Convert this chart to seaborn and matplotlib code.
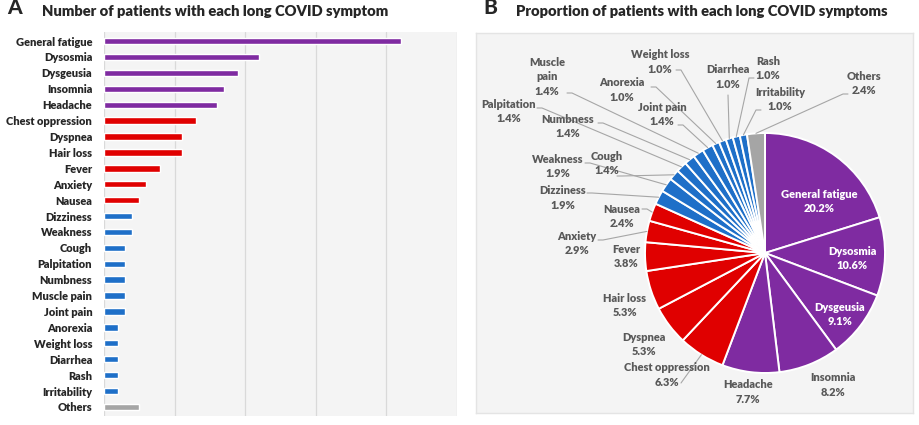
import matplotlib
matplotlib.use("Agg")
import matplotlib.pyplot as plt
import seaborn as sns
import numpy as np
import pandas as pd

# ---------------- data ----------------
symptoms = ["General fatigue", "Dysosmia", "Dysgeusia", "Insomnia", "Headache",
            "Chest oppression", "Dyspnea", "Hair loss", "Fever", "Anxiety", "Nausea",
            "Dizziness", "Weakness", "Cough", "Palpitation", "Numbness", "Muscle pain",
            "Joint pain", "Anorexia", "Weight loss", "Diarrhea", "Rash", "Irritability",
            "Others"]
counts = [42, 22, 19, 17, 16, 13, 11, 11, 8, 6, 5, 4, 4, 3, 3, 3, 3, 3, 2, 2, 2, 2, 2, 5]
percent_labels = ["20.2%", "10.6%", "9.1%", "8.2%", "7.7%", "6.3%", "5.3%", "5.3%",
                  "3.8%", "2.9%", "2.4%", "1.9%", "1.9%", "1.4%", "1.4%", "1.4%",
                  "1.4%", "1.4%", "1.0%", "1.0%", "1.0%", "1.0%", "1.0%", "2.4%"]
groups = ["g1"] * 5 + ["g2"] * 6 + ["g3"] * 12 + ["g4"]
pie_names = ["General fatigue", "Dysosmia", "Dysgeusia", "Insomnia", "Headache",
             "Chest oppression", "Dyspnea", "Hair loss", "Fever", "Anxiety", "Nausea",
             "Dizziness", "Weakness", "Cough", "Palpitation", "Numbness", "Muscle\npain",
             "Joint pain", "Anorexia", "Weight loss", "Diarrhea", "Rash", "Irritability",
             "Others"]

# ---------------- style ----------------
group_colors = {"g1": "#7F2BA1", "g2": "#E00000", "g3": "#1E6FC8", "g4": "#A5A5A5"}
BG = "#f4f4f4"
WT = 800
sns.set_style("white")
plt.rcParams["font.family"] = ["Lato", "DejaVu Sans"]

W, H = 920, 425
fig = plt.figure(figsize=(W / 100, H / 100), dpi=100)

def fx(px):
    return px / W

def fy(py):
    return 1 - py / H

# ---------------- panel A ----------------
axL, axR, axT, axB = 104, 457, 32, 416
ax1 = fig.add_axes([fx(axL), fy(axB), (axR - axL) / W, (axB - axT) / H])
ax1.set_facecolor(BG)
df = pd.DataFrame({"symptom": symptoms, "count": counts, "group": groups})
sns.barplot(data=df, x="count", y="symptom", hue="group", palette=group_colors,
            hue_order=["g1", "g2", "g3", "g4"], order=symptoms, dodge=False,
            width=0.4, saturation=1, legend=False, ax=ax1, zorder=3)
ax1.set_xlim(0, 50)
ax1.set_ylim(23.57, -0.57)
ax1.set_xticks([0, 10, 20, 30, 40, 50])
ax1.set_xticklabels([])
ax1.grid(axis="x", color="#d9d9d9", linewidth=0.9)
ax1.grid(axis="y", visible=False)
ax1.set_axisbelow(True)
for s in ax1.spines.values():
    s.set_visible(False)
ax1.tick_params(axis="both", length=0)
ax1.tick_params(axis="y", pad=8.5, labelsize=7.9)
for t in ax1.get_yticklabels():
    t.set_fontweight(WT)
ax1.set_xlabel("")
ax1.set_ylabel("")

fig.text(fx(215), fy(11), "Number of patients with each long COVID symptom",
         ha="center", va="center", fontsize=10.6, fontweight=WT)
fig.text(fx(15), fy(8), "A", ha="center", va="center", fontsize=15, fontweight=900)

# ---------------- panel B ----------------
bL, bR, bT, bB = 476, 913, 33, 413
cx, cy, R = 765, 253, 120
ax2 = fig.add_axes([fx(bL), fy(bB), (bR - bL) / W, (bB - bT) / H])
pie_colors = [group_colors[g] for g in groups]
wedges, _ = ax2.pie(counts, colors=pie_colors, startangle=90, counterclock=False,
                    radius=1.0, wedgeprops=dict(edgecolor="white", linewidth=1.4))
ax2.set_frame_on(True)
ax2.set_facecolor(BG)
for s in ax2.spines.values():
    s.set_color("#e4e4e4")
    s.set_linewidth(1.0)
ax2.set_aspect("auto")
ax2.set_xlim((bL - cx) / R, (bR - cx) / R)
ax2.set_ylim((cy - bB) / R, (cy - bT) / R)
ax2.set_xticks([])
ax2.set_yticks([])

def dx(px):
    return (px - cx) / R

def dy(py):
    return (cy - py) / R

# label layout (pixel centres) and leader-line start points
label_pos = {
    "General fatigue": (819, 201.5), "Dysosmia": (852, 258.5), "Dysgeusia": (840, 314.5),
    "Insomnia": (833, 385), "Headache": (748, 392), "Chest oppression": (667, 375),
    "Dyspnea": (644, 344.5), "Hair loss": (625, 305.5), "Fever": (626, 256.5),
    "Anxiety": (577, 243.5), "Nausea": (622, 216.5), "Dizziness": (563, 198),
    "Weakness": (558, 166.5), "Cough": (607, 163.5), "Palpitation": (509, 111.5),
    "Numbness": (568, 126.5), "Muscle pain": (547, 77), "Joint pain": (662, 114.5),
    "Anorexia": (622, 90), "Weight loss": (660, 62), "Diarrhea": (728, 77),
    "Rash": (768, 68.5), "Irritability": (780, 99.5), "Others": (864, 83.5),
}
leader_start = {
    "Weight loss": (676, 70), "Muscle pain": (567, 93), "Anorexia": (651, 87),
    "Diarrhea": (728, 95), "Rash": (754, 78), "Irritability": (761, 110),
    "Others": (848, 94), "Palpitation": (537, 108), "Joint pain": (678, 125),
    "Numbness": (598, 123), "Weakness": (585, 163), "Cough": (617, 176),
    "Dizziness": (587, 193), "Nausea": (642, 209), "Anxiety": (598, 240),
    "Chest oppression": (681, 383),
}
inside = {"General fatigue", "Dysosmia", "Dysgeusia"}

for i, (name, w) in enumerate(zip(symptoms, wedges)):
    px, py = label_pos[name]
    inner = name in inside
    ax2.text(dx(px), dy(py), f"{pie_names[i]}\n{percent_labels[i]}", ha="center",
             va="center", fontsize=7.9, fontweight=WT, linespacing=1.4,
             color="white" if inner else "#595959", zorder=5)
    if name in leader_start:
        ang = np.deg2rad((w.theta1 + w.theta2) / 2)
        ex, ey = np.cos(ang), np.sin(ang)
        sx, sy = dx(leader_start[name][0]), dy(leader_start[name][1])
        if name in ("Diarrhea", "Chest oppression"):
            xs, ys = [sx, ex], [sy, ey]
        else:
            step = 5 / R if ex > sx else -5 / R
            xs, ys = [sx, sx + step, ex], [sy, sy, ey]
        ax2.plot(xs, ys, color="#a6a6a6", linewidth=0.8, zorder=4)

fig.text(fx(702), fy(11), "Proportion of patients with each long COVID symptoms",
         ha="center", va="center", fontsize=10.6, fontweight=WT)
fig.text(fx(490), fy(8), "B", ha="center", va="center", fontsize=15, fontweight=900)

fig.savefig("out.png", dpi=100, facecolor="white")
